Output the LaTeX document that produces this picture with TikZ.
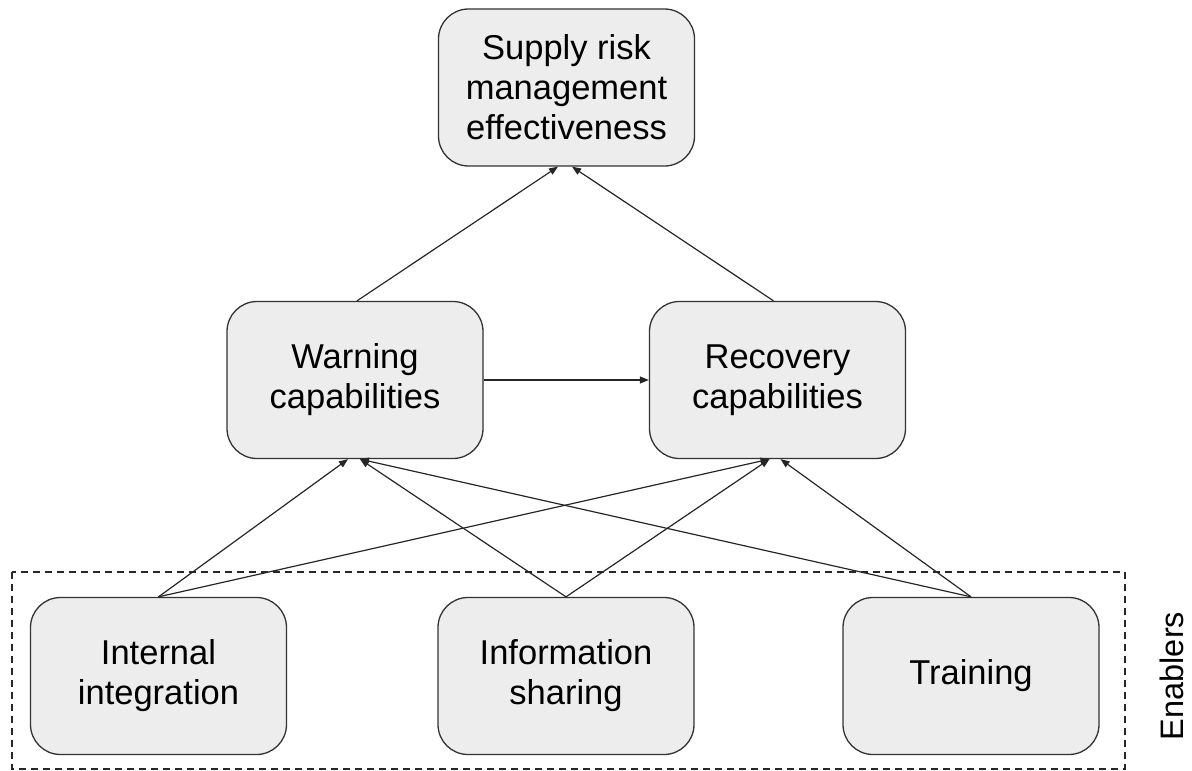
\documentclass[tikz,border=0pt]{standalone}
\usepackage{fontspec}
\setmainfont{Liberation Sans}
\usetikzlibrary{arrows.meta}
\begin{document}
\begin{tikzpicture}[x=1pt,y=-1pt,
  box/.style={draw=black!80, line width=1.3pt, fill=black!7, rounded corners=30pt,
    minimum width=256pt, minimum height=157pt, align=center, inner sep=0pt,
    font=\fontsize{34.5}{40}\selectfont},
  link/.style={draw=black!85, line width=1.2pt, -{Triangle[length=9pt,width=7pt]}},
  group/.style={draw=black!85, line width=1.1pt, dash pattern=on 7pt off 5pt}]
  \useasboundingbox (0,0) rectangle (1192,771);

  % outcome
  \node[box] (srm) at (566.5,87.5) {Supply risk\\management\\effectiveness};

  % capabilities
  \node[box] (warn) at (355,380) {Warning\\capabilities};
  \node[box] (rec)  at (777.5,380) {Recovery\\capabilities};

  % enablers
  \node[box] (ii) at (158.5,676) {Internal\\integration};
  \node[box] (is) at (566,676) {Information\\sharing};
  \node[box] (tr) at (971,676) {Training};

  % enablers group frame and label
  \draw[group] (12,572) rectangle (1125,769);
  \node[rotate=90, font=\fontsize{32.5}{36}\selectfont] (enl) at (1172,676) {Enablers};

  % links from enablers to capabilities
  \draw[link] (ii.north) -- ([xshift=-7pt]warn.south);
  \draw[link] (is.north) -- ([xshift=5pt]warn.south);
  \draw[link] (tr.north) -- ([xshift=5pt]warn.south);
  \draw[link] (ii.north) -- ([xshift=-8pt]rec.south);
  \draw[link] (is.north) -- ([xshift=-8pt]rec.south);
  \draw[link] (tr.north) -- ([xshift=3pt]rec.south);

  % warning feeds recovery
  \draw[link] (warn.east) -- (rec.west);

  % capabilities to effectiveness
  \draw[link] ([xshift=2pt]warn.north) -- ([xshift=-8.5pt]srm.south);
  \draw[link] ([xshift=-4pt]rec.north) -- ([xshift=5.5pt]srm.south);
\end{tikzpicture}
\end{document}
